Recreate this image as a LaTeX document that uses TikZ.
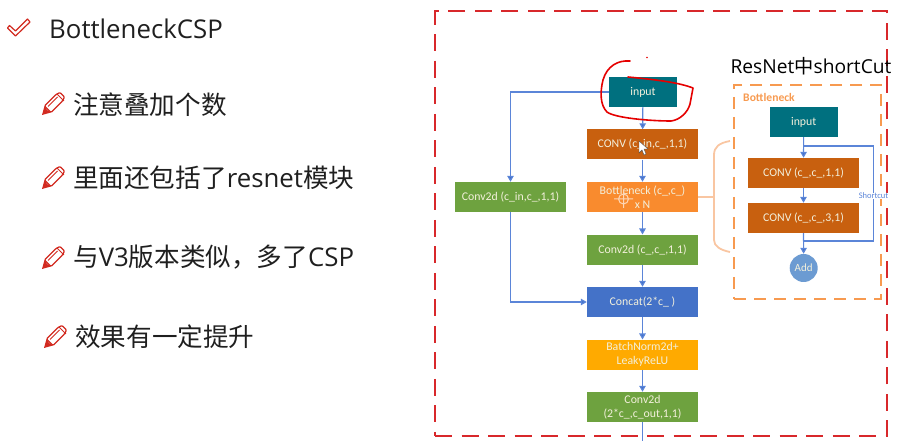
\documentclass[tikz,border=0pt]{standalone}
\usepackage{fontspec}
\setmainfont{Noto Sans CJK SC}
\newfontfamily\boxfont{Carlito}
\newfontfamily\latfont{Open Sans}
\newcommand{\latrun}[1]{{\latfont\fontsize{25.8}{30}\selectfont #1}}
\newcommand{\caprun}[1]{{\latfont\fontsize{19.2}{22}\selectfont #1}}
\usetikzlibrary{arrows.meta}
\definecolor{redline}{HTML}{D8282B}
\definecolor{pen}{HTML}{D22A20}
\definecolor{flow}{HTML}{5B85D8}
\definecolor{teal}{HTML}{00707F}
\definecolor{burnt}{HTML}{C8600F}
\definecolor{bneck}{HTML}{F98B2E}
\definecolor{grass}{HTML}{6EA23F}
\definecolor{royal}{HTML}{4472C8}
\definecolor{amber}{HTML}{FFAA00}
\definecolor{dashorange}{HTML}{F79A50}
\definecolor{brace}{HTML}{F9C6A2}
\definecolor{addblue}{HTML}{6C9BD2}
\definecolor{boxtext}{HTML}{F3F0DC}
\tikzset{
  flowbox/.style={minimum width=111pt,minimum height=30pt,inner sep=0pt,text=boxtext,
    font=\boxfont\fontsize{11.8}{14}\selectfont,align=center},
  inbox/.style={flowbox,minimum width=68pt,fill=teal},
  flowline/.style={draw=flow,line width=1.2pt},
  flowarrow/.style={flowline,-{Triangle[length=6pt,width=6.5pt,fill=royal]}},
  bullettext/.style={anchor=west,inner sep=0pt,font=\fontsize{25.6}{30}\selectfont,text=black!88},
  pencil/.pic={
    \draw[pen,line width=1.3pt,line join=round,rounded corners=1pt,fill=white]
      (2.5,-9) -- (14,-20.5) -- (18,-22.5) -- (22.5,-18) -- (20.5,-14) -- (9,-2.5) -- cycle;
    \draw[pen,line width=1pt] (6,-8.5) -- (15.5,-18);
    \draw[pen,line width=1pt] (15,-21) -- (22,-14);
    \fill[pen] (0,0) -- (2.5,-9) -- (5,-5) -- (9,-2.5) -- cycle;
  }
}
\begin{document}
\begin{tikzpicture}[x=1pt,y=-1pt]
\useasboundingbox (0,0) rectangle (906,446);
% left column
\draw[pen,line width=1.2pt,line join=round,fill=white]
  (7.5,28) -- (9.5,25.5) -- (15.5,31) -- (27.5,19) -- (30,22) -- (15.5,36) -- cycle;
\node[bullettext] (title) at (49,29) {\latrun{BottleneckCSP}};
\pic at (42,115) {pencil};
\node[bullettext] (b1) at (73,105) {注意叠加个数};
\pic at (42,189) {pencil};
\node[bullettext] (b2) at (73,178) {里面还包括了\latrun{resnet}模块};
\pic at (42,269) {pencil};
\node[bullettext] (b3) at (73,257) {与\latrun{V3}版本类似，多了\latrun{CSP}};
\pic at (44,348) {pencil};
\node[bullettext] (b4) at (75,337) {效果有一定提升};
% frame
\node[draw=redline,line width=2pt,dash pattern=on 17pt off 9.5pt,minimum width=452pt,minimum height=424.5pt,inner sep=0pt] (frame) at (661,223.7) {};
% main flow
\node[inbox] (input) at (643,92) {input};
\node[flowbox,fill=burnt] (conv) at (642.5,144.5) {CONV (c\_in,c\_,1,1)};
\node[flowbox,fill=bneck] (bott) at (642.5,197) {Bottleneck (c\_,c\_)\\x N};
\node[flowbox,fill=grass] (convleft) at (510.5,197) {Conv2d (c\_in,c\_,1,1)};
\node[flowbox,fill=grass] (convmid) at (642.5,249.7) {Conv2d (c\_,c\_,1,1)};
\node[flowbox,fill=royal] (concat) at (642.5,302) {Concat(2*c\_ )};
\node[flowbox,fill=amber] (bn) at (642.5,354.7) {BatchNorm2d+\\LeakyReLU};
\node[flowbox,fill=grass] (out) at (642.5,407) {Conv2d\\(2*c\_,c\_out,1,1)};
\coordinate (outend) at (642.5,441);
\draw[flowarrow] (input) -- (conv);
\draw[flowarrow] (conv) -- (bott);
\draw[flowarrow] (bott) -- (convmid);
\draw[flowarrow] (convmid) -- (concat);
\draw[flowarrow] (concat) -- (bn);
\draw[flowarrow] (bn) -- (out);
\draw[flowline] (out) -- (outend);
\draw[flowarrow] (input.west) -| (convleft.north);
\draw[flowarrow] (convleft.south) |- (concat.west);
% brace
\coordinate (bracetop) at (730,141);
\coordinate (bracebot) at (730,252);
\coordinate (bracemid) at (714,197);
\draw[brace,line width=1.8pt] (bracetop) .. controls (719,143) and (714,147) .. (714,155)
  -- (714,240) .. controls (714,246) and (720,250) .. (bracebot);
\draw[brace,line width=1.8pt] (bott.east) -- (bracemid);
% bottleneck detail
\node[inner sep=0pt,anchor=center,text=black] (caption) at (811,66) {\caprun{ResNet}{\fontsize{19.2}{22}\selectfont 中}\caprun{shortCut}};
\node[draw=dashorange,line width=2pt,dash pattern=on 12pt off 8pt,minimum width=147pt,minimum height=214pt,inner sep=0pt] (bframe) at (807.5,192) {};
\node[inner sep=0pt,text=dashorange,font=\boxfont\bfseries\fontsize{11.6}{12}\selectfont] (blabel) at (769,97) {Bottleneck};
\node[inbox] (binput) at (803.7,122) {input};
\node[flowbox,fill=burnt] (bc1) at (803.5,173) {CONV (c\_,c\_,1,1)};
\node[flowbox,fill=burnt] (bc2) at (803.5,218) {CONV (c\_,c\_,3,1)};
\node[circle,fill=addblue,minimum size=28pt,inner sep=0pt,text=boxtext,font=\boxfont\fontsize{11}{12}\selectfont] (add) at (803.7,268) {Add};
\draw[flowarrow] (binput) -- (bc1);
\draw[flowarrow] (bc1) -- (bc2);
\draw[flowarrow] (bc2) -- (add);
\coordinate (s1) at (803.7,146);
\coordinate (s2) at (873.5,146);
\coordinate (s3) at (873.5,241);
\coordinate (s4) at (803.7,241);
\draw[flowline] (s1) -- (s2) -- (s3) -- (s4);
\node[fill=white,inner sep=0.5pt,text=flow,font=\boxfont\fontsize{8.5}{9}\selectfont] (slabel) at (873.5,196) {Shortcut};
% hand-drawn scribble
\draw[red!90!black,line width=1.6pt,line cap=round,line join=round]
  (630,61) .. controls (618,60) and (607,66) .. (603,80)
  .. controls (600,92) and (600,105) .. (607,112)
  .. controls (615,118) and (650,121) .. (671,121)
  .. controls (680,120) and (688,112) .. (690,104)
  -- (693,88) .. controls (680,83) and (660,80) .. (628,77);
\fill[red!90!black] (647,57.5) circle (0.8pt);
% cursor
\fill[white,draw=black!70,line width=0.4pt] (639,141) -- (639,153) -- (642,150) -- (644,155) -- (646,154) -- (644,149) -- (648,149) -- cycle;
% move marker
\draw[white!65!bneck,line width=1pt] (623.5,199) circle (5pt) (623.5,190) -- (623.5,208) (614,199) -- (633,199);
\end{tikzpicture}
\end{document}
